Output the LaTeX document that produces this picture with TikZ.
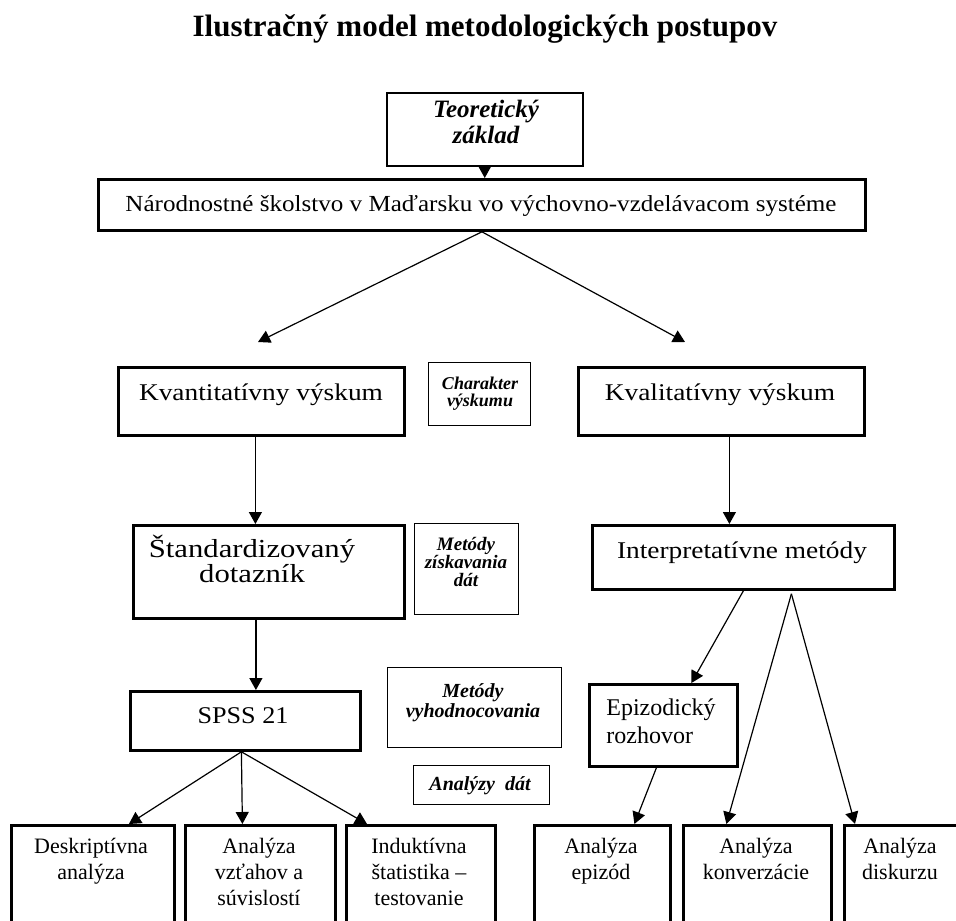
\documentclass[tikz,border=0pt]{standalone}
\usepackage{fontspec}
\setmainfont{Liberation Serif}
\newfontfamily\wA[FakeStretch=1.14]{Liberation Serif}
\newfontfamily\wB[FakeStretch=1.18]{Liberation Serif}
\newfontfamily\wC[FakeStretch=1.09]{Liberation Serif}
\usetikzlibrary{arrows.meta}
\begin{document}
\begin{tikzpicture}[x=1pt,y=-1pt,
  thickbox/.style={draw,line width=2.8pt,inner sep=0pt,anchor=north west},
  thinbox/.style={draw,line width=1.1pt,inner sep=0pt,anchor=north west},
  midbox/.style={draw,line width=1.5pt,inner sep=0pt,anchor=north west},
  big/.style={font=\fontsize{24}{27}\selectfont\wA,align=center,inner sep=0pt,anchor=base},
  mid/.style={font=\fontsize{22}{26}\selectfont,align=center,inner sep=0pt,anchor=base},
  lab/.style={font=\fontsize{20}{20}\selectfont\bfseries\itshape,align=center,inner sep=0pt,anchor=base},
  arr/.style={line width=1.2pt,-{Triangle[width=13pt,length=12pt]}}
]
\useasboundingbox (0,0) rectangle (956,921);
\clip (0,0) rectangle (956,921);
% title
\node[font=\fontsize{31}{34}\selectfont\bfseries,inner sep=0pt,anchor=base] (title) at (485,36) {Ilustračný model metodologických postupov};
% top boxes
\node[midbox,minimum width=196pt,minimum height=73pt] (teo) at (386,92) {};
\node[font=\fontsize{25}{26}\selectfont\bfseries\itshape,align=center,inner sep=0pt,anchor=base] (teot) at (486,143) {Teoretický\\základ};
\node[thickbox,minimum width=767pt,minimum height=51pt] (nar) at (97,178) {};
\node[font=\fontsize{23}{27}\selectfont\wC,inner sep=0pt,anchor=base] (nart) at (481,211) {Národnostné školstvo v Maďarsku vo výchovno-vzdelávacom systéme};
\coordinate (kl) at (258,342);
\coordinate (kr) at (685,342);
\draw[arr] (teo.south) -- (teo.south |- nar.north);
\draw[arr] (nar.south) -- (kl);
\draw[arr] (nar.south) -- (kr);
% level 2
\node[thickbox,minimum width=286pt,minimum height=68pt] (kvant) at (117,366) {};
\node[big] (kvantt) at (261,400) {Kvantitatívny výskum};
\node[thinbox,minimum width=102pt,minimum height=63pt] (char) at (428,362) {};
\node[lab,font=\fontsize{18}{17}\selectfont\bfseries\itshape] (chart) at (480,406) {Charakter\\výskumu};
\node[thickbox,minimum width=286pt,minimum height=68pt] (kval) at (577,366) {};
\node[big] (kvalt) at (720,400) {Kvalitatívny výskum};
% level 3
\node[thickbox,minimum width=271pt,minimum height=93pt] (stand) at (132,524) {};
\node[big,font=\fontsize{26}{23}\selectfont\wB] (standt) at (252,582) {Štandardizovaný\\dotazník};
\node[thinbox,minimum width=104pt,minimum height=91pt] (meth) at (414,523) {};
\node[lab,font=\fontsize{19}{18}\selectfont\bfseries\itshape] (metht) at (466,586) {Metódy\\získavania\\dát};
\node[thickbox,minimum width=302pt,minimum height=64pt] (interp) at (591,524) {};
\node[big] (interpt) at (742,558) {Interpretatívne metódy};
\draw[arr] ([xshift=-6pt]kvant.south) -- ([xshift=-6pt]kvant.south |- stand.north);
\draw[arr] ([xshift=8pt]kval.south) -- ([xshift=8pt]kval.south |- interp.north);
% level 4
\node[thickbox,minimum width=230pt,minimum height=59pt] (spss) at (129,690) {};
\node[big,font=\fontsize{24}{27}\selectfont\wC] (spsst) at (243,723) {SPSS 21};
\node[thinbox,minimum width=174pt,minimum height=80pt] (vyh) at (387,667) {};
\node[lab] (vyht) at (473,717) {Metódy\\vyhodnocovania};
\node[thinbox,minimum width=136pt,minimum height=39pt] (anal) at (413,765) {};
\node[lab] (analt) at (480,790) {Analýzy~ dát};
\node[thickbox,minimum width=148pt,minimum height=82pt] (epi) at (588,683) {};
\node[big,align=left,font=\fontsize{24}{28}\selectfont] (epit) at (661,743) {Epizodický\\rozhovor};
\draw[arr] ([xshift=-13pt]stand.south) -- ([xshift=-13pt]stand.south |- spss.north);
\draw[arr] (interp.south) -- ([xshift=28pt]epi.north);
% bottom boxes
\node[thickbox,minimum width=163pt,minimum height=120pt] (desk) at (10,824) {};
\node[mid] (deskt) at (91,879) {Deskriptívna\\analýza};
\node[thickbox,minimum width=150pt,minimum height=120pt] (vzt) at (184,824) {};
\node[mid] (vztt) at (259,905) {Analýza\\vzťahov a\\súvislostí};
\node[thickbox,minimum width=149pt,minimum height=120pt] (ind) at (345,824) {};
\node[mid] (indt) at (419,905) {Induktívna\\štatistika –\\testovanie};
\node[thickbox,minimum width=136pt,minimum height=120pt] (epz) at (533,824) {};
\node[mid] (epzt) at (601,879) {Analýza\\epizód};
\node[thickbox,minimum width=148pt,minimum height=120pt] (konv) at (682,824) {};
\node[mid] (konvt) at (756,879) {Analýza\\konverzácie};
\node[thickbox,minimum width=140pt,minimum height=120pt] (disk) at (843,824) {};
\node[mid] (diskt) at (900,879) {Analýza\\diskurzu};
\draw[arr] ([xshift=-4pt]spss.south) -- ([xshift=36pt]desk.north);
\draw[arr] ([xshift=-4pt]spss.south) -- ([xshift=-18pt]vzt.north);
\draw[arr] ([xshift=-4pt]spss.south) -- ([xshift=22pt]ind.north west);
\draw[arr] ([xshift=-7pt]epi.south) -- ([xshift=32pt]epz.north);
\draw[arr] ([xshift=48pt,yshift=-3pt]interp.south) -- ([xshift=-31pt]konv.north);
\draw[arr] ([xshift=48pt,yshift=-3pt]interp.south) -- ([xshift=12pt]disk.north west);
\end{tikzpicture}
\end{document}
